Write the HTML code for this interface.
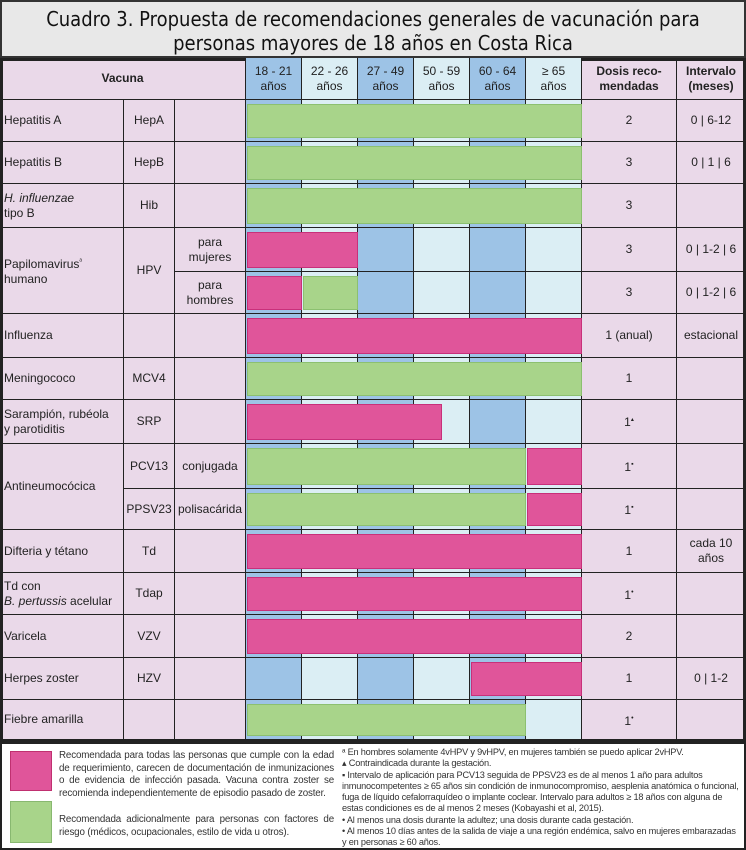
<!DOCTYPE html>
<html><head><meta charset="utf-8"><style>
*{margin:0;padding:0;box-sizing:border-box}
body{width:746px;height:850px;background:#fff;position:relative;overflow:hidden;font-family:"Liberation Sans",sans-serif;color:#222}
.a{position:absolute}
#title{left:0;top:0;width:746px;height:58px;background:#e8e8e8;border:2px solid #333;text-align:center;font-size:20px;line-height:24px;padding-top:5px;color:#111;font-family:"DejaVu Sans Condensed","Liberation Sans",sans-serif}
#tbl{left:0;top:58px;width:746px;height:684px;border:3px solid #222;background:#ead9e9}
.cell{position:absolute;display:flex;align-items:center;justify-content:center;text-align:center;font-size:12px;line-height:15px;border-right:1.5px solid #222;border-bottom:1.5px solid #222}
.l{justify-content:flex-start;text-align:left;padding-left:4px}
.bar{position:absolute;border:1px solid rgba(0,0,0,0.15)}
#legend{left:0;top:742px;width:746px;height:108px;border:2px solid #222;background:#fff}
.lt{font-size:9.8px;line-height:12.6px;color:#333;letter-spacing:-0.15px}
</style></head><body>
<div id="title" class="a">Cuadro 3. Propuesta de recomendaciones generales de vacunación para<br>personas mayores de 18 años en Costa Rica</div>
<div id="tbl" class="a"></div>
<div id="legend" class="a">
 <div class="a" style="left:8px;top:7px;width:42px;height:40px;background:#e0559a;border:1px solid #c03070"></div>
 <div class="a lt" style="left:57px;top:6px;width:275px;text-align:justify">Recomendada para todas las personas que cumple con la edad de requerimiento, carecen de documentación de inmunizaciones o de evidencia de infección pasada. Vacuna contra zoster se recomienda independientemente de episodio pasado de zoster.</div>
 <div class="a" style="left:8px;top:57px;width:42px;height:42px;background:#a8d48a;border:1px solid #88b870"></div>
 <div class="a lt" style="left:57px;top:70px;width:275px;text-align:justify">Recomendada adicionalmente para personas con factores de riesgo (médicos, ocupacionales, estilo de vida u otros).</div>
 <div class="a lt" style="left:340px;top:3px;width:400px;font-size:9.2px;line-height:11.3px;letter-spacing:-0.2px">
  <div>ᵃ En hombres solamente 4vHPV y 9vHPV, en mujeres también se puedo aplicar 2vHPV.</div>
  <div>▴ Contraindicada durante la gestación.</div>
  <div>▪ Intervalo de aplicación para PCV13 seguida de PPSV23 es de al menos 1 año para adultos inmunocompetentes ≥ 65 años sin condición de inmunocompromiso, aesplenia anatómica o funcional, fuga de líquido cefalorraquídeo o implante coclear. Intervalo para adultos ≥ 18 años con alguna de estas condiciones es de al menos 2 meses (Kobayashi et al, 2015).</div>
  <div>• Al menos una dosis durante la adultez; una dosis durante cada gestación.</div>
  <div>• Al menos 10 días antes de la salida de viaje a una región endémica, salvo en mujeres embarazadas y en personas ≥ 60 años.</div>
 </div>
</div>
<script>
const ageLabels=["18 - 21<br>años","22 - 26<br>años","27 - 49<br>años","50 - 59<br>años","60 - 64<br>años","≥ 65<br>años"];
const vaccines=["Hepatitis A","Hepatitis B","<i>H. influenzae</i><br>tipo B","","","Influenza","Meningococo","Sarampión, rubéola<br>y parotiditis","","","Difteria y tétano","Td con<br><i>B. pertussis</i> acelular","Varicela","Herpes zoster","Fiebre amarilla"];
const abbrevs=["HepA","HepB","Hib","","","","MCV4","SRP","PCV13","PPSV23","Td","Tdap","VZV","HZV",""];
const subtypes=["","","","para<br>mujeres","para<br>hombres","","","","conjugada","polisacárida","","","","",""];
const doses=["2","3","3","3","3","1 (anual)","1","1<sup style='font-size:6px'>▴</sup>","1<sup style='font-size:7px'>▪</sup>","1<sup style='font-size:7px'>▪</sup>","1","1<sup style='font-size:7px'>•</sup>","2","1","1<sup style='font-size:7px'>•</sup>"];
const intervals=["0 | 6-12","0 | 1 | 6","","0 | 1-2 | 6","0 | 1-2 | 6","estacional","","","","","cada 10<br>años","","","0 | 1-2",""];
// bars: [row, startCol, endCol, type]
const bars=[[0,0,6,"g"],[1,0,6,"g"],[2,0,6,"g"],[3,0,2,"p"],[4,0,1,"p"],[4,1,2,"g"],[5,0,6,"p"],[6,0,6,"g"],[7,0,3.5,"p"],[8,0,5,"g"],[8,5,6,"p"],[9,0,5,"g"],[9,5,6,"p"],[10,0,6,"p"],[11,0,6,"p"],[12,0,6,"p"],[13,4,6,"p"],[14,0,5,"g"]];
const rowH=[42,42,44,44,42,44,42,44,45,41,43,42,43,42,40];
const tbl=document.getElementById('tbl');
const X0=-3,Y0=-3;
const colX=[0,124,175,246,302,358,414,470,526,582,677,746];
const HEAD=42;
function rowY(i){let y=58+HEAD;for(let k=0;k<i;k++)y+=rowH[k];return y;}
function cell(x1,x2,y1,y2,html,cls,name,bg){
 const d=document.createElement('div');
 d.className='cell '+(cls||'');
 d.style.left=(x1+X0)+'px';d.style.top=(y1-58+Y0)+'px';d.style.width=(x2-x1)+'px';d.style.height=(y2-y1)+'px';
 if(bg)d.style.background=bg;
 d.innerHTML='<span>'+html+'</span>';
 
 
 tbl.appendChild(d);return d;}
const colBg=["#9dc3e6","#dbeef4","#9dc3e6","#dbeef4","#9dc3e6","#dbeef4"];
cell(0,246,58,100,"<b>Vacuna</b>","",'header-vacuna');
for(let c=0;c<6;c++)cell(colX[3+c],colX[4+c],58,100,ageLabels[c],"",'header-age-'+c,colBg[c]);
cell(582,677,58,100,"<b>Dosis reco-<br>mendadas</b>","",'header-dosis');
cell(677,746,58,100,"<b>Intervalo<br>(meses)</b>","",'header-intervalo');
const nR=rowH.length;
for(let r=0;r<nR;r++){
 const y1=rowY(r),y2=rowY(r+1);
 if(!(r===3||r===4||r===8||r===9))cell(0,124,y1,y2,vaccines[r],'l','vaccine-name-'+r);
 if(!(r===3||r===4))cell(124,175,y1,y2,abbrevs[r],'','abbrev-'+r);
 cell(175,246,y1,y2,subtypes[r],'','subtype-'+r);
 for(let c=0;c<6;c++)cell(colX[3+c],colX[4+c],y1,y2,"","",'age-cell-'+r+'-'+c,colBg[c]);
 cell(582,677,y1,y2,doses[r],'','doses-'+r);
 cell(677,746,y1,y2,intervals[r],'','interval-'+r);
}
cell(0,124,rowY(3),rowY(5),"Papilomavirus<sup style='font-size:7px'>ᵃ</sup><br>humano",'l','vaccine-name-hpv');
cell(124,175,rowY(3),rowY(5),"HPV",'','abbrev-hpv');
cell(0,124,rowY(8),rowY(10),"Antineumocócica",'l','vaccine-name-antineumococica');
function ax(c){return 246+c*56;}
bars.forEach((b,i)=>{
 const d=document.createElement('div');
 d.className='bar';
 const y1=rowY(b[0]),y2=rowY(b[0]+1);
 d.style.left=(ax(b[1])+X0+1)+'px';d.style.width=(ax(b[2])-ax(b[1])-1)+'px';
 d.style.top=(y1-58+Y0+4)+'px';d.style.height=(y2-y1-8)+'px';
 d.style.background=b[3]==='p'?'#e0559a':'#a8d48a';
 d.style.borderColor=b[3]==='p'?'#c8307a':'#8cc070';
 
 
 tbl.appendChild(d);
});
</script>
</body></html>
